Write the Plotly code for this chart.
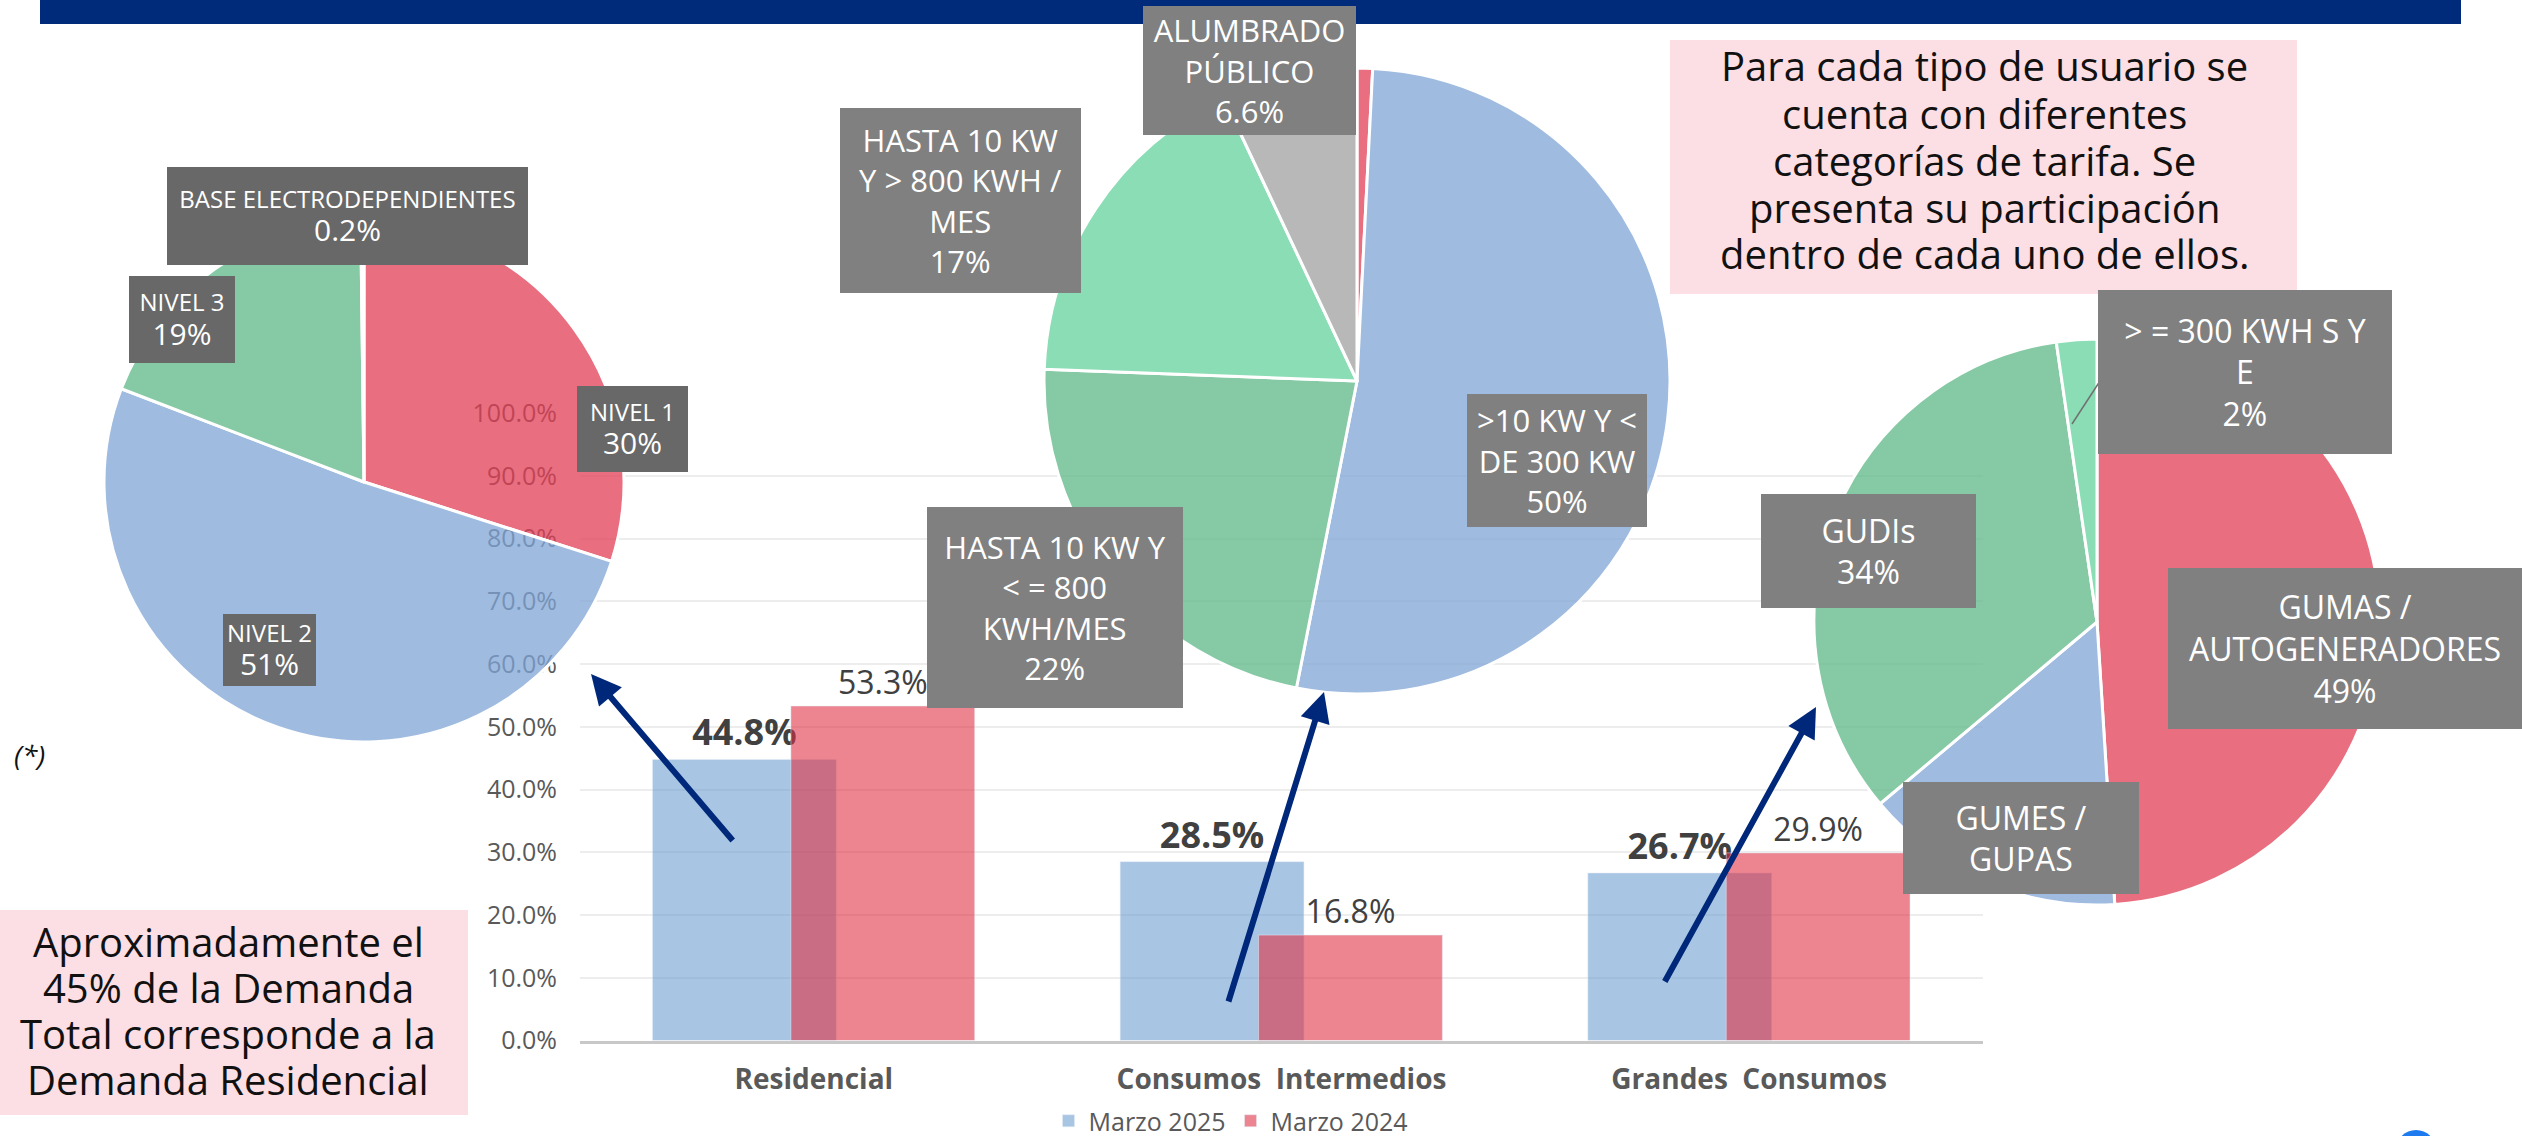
import plotly.graph_objects as go

W, H = 2522, 1136

# barras: participación en la demanda total
categorias = ["Residencial", "Consumos  Intermedios", "Grandes  Consumos"]
marzo_2025 = [44.8, 28.5, 26.7]
marzo_2024 = [53.3, 16.8, 29.9]
ticks_y = [0, 10, 20, 30, 40, 50, 60, 70, 80, 90, 100]

# pastel residencial
res_nombres = ["NIVEL 1", "NIVEL 2", "NIVEL 3", "BASE ELECTRODEPENDIENTES"]
res_valores = [30, 51, 19, 0.2]
res_etiquetas = ["30%", "51%", "19%", "0.2%"]

# pastel consumos intermedios
int_nombres = ["OTROS", ">10 KW Y <\nDE 300 KW", "HASTA 10 KW Y\n< = 800\nKWH/MES",
               "HASTA 10 KW\nY > 800 KWH /\nMES", "ALUMBRADO\nPÚBLICO"]
int_valores = [0.8, 52.3, 22.5, 17.4, 7.0]
int_etiquetas = ["", "50%", "22%", "17%", "6.6%"]

# pastel grandes consumos
gc_nombres = ["GUMAS /\nAUTOGENERADORES", "GUMES /\nGUPAS", "GUDIs", "> = 300 KWH S Y\nE"]
gc_valores = [49, 14.9, 33.8, 2.3]
gc_etiquetas = ["49%", "", "34%", "2%"]

texto_sup = ["Para cada tipo de usuario se", "cuenta con diferentes", "categorías de tarifa. Se",
             "presenta su participación", "dentro de cada uno de ellos."]
texto_inf = ["Aproximadamente el", "45% de la Demanda", "Total corresponde a la", "Demanda Residencial"]

ROJO = "rgba(226,62,84,0.75)"
AZUL = "rgba(127,164,214,0.75)"
VERDE = "rgba(94,183,135,0.75)"
VERDE_CL = "rgba(100,210,156,0.75)"
GRIS = "rgba(160,160,160,0.75)"
FONT = "Open Sans"


def px(x):
    return x / W


def py(y):
    return 1 - y / H


def esc(s):
    return s.replace("&", "&amp;").replace("<", "&lt;").replace(">", "&gt;").replace("\n", "<br>")


def pastel(valores, nombres, colores, cx, cy, r):
    return go.Pie(values=valores, labels=nombres, marker=dict(colors=colores, line=dict(color="white", width=3)),
                  domain=dict(x=[px(cx - r), px(cx + r)], y=[py(cy + r), py(cy - r)]),
                  sort=False, direction="clockwise", rotation=0, textinfo="none",
                  showlegend=False, hoverinfo="label+percent")


fig = go.Figure()

fig.add_trace(go.Bar(x=categorias, y=marzo_2025, name="Marzo 2025", marker_color="rgba(107,155,208,0.58)",
                     width=0.393, offset=-0.345, texttemplate="<b>%{y:.1f}%</b>", textposition="outside",
                     textfont=dict(size=36, color="#404040"), cliponaxis=False))
fig.add_trace(go.Bar(x=categorias, y=marzo_2024, name="Marzo 2024", marker_color="rgba(224,45,64,0.58)",
                     width=0.393, offset=-0.049, texttemplate="%{y:.1f}%", textposition="outside",
                     textfont=dict(size=32, color="#404040"), cliponaxis=False))

fig.add_trace(pastel(res_valores, res_nombres, [ROJO, AZUL, VERDE, VERDE_CL], 364, 482, 260))
fig.add_trace(pastel(int_valores, int_nombres, [ROJO, AZUL, VERDE, VERDE_CL, GRIS], 1357, 381, 313))
fig.add_trace(pastel(gc_valores, gc_nombres, [ROJO, AZUL, VERDE, VERDE_CL], 2097, 622, 283))

anots = []


def caja(texto, x0, y0, x1, y1, color, size):
    anots.append(dict(text=texto, xref="paper", yref="paper", x=px(x0), y=py(y0), xanchor="left", yanchor="top",
                      width=x1 - x0, height=y1 - y0, bgcolor=color, borderwidth=0, borderpad=0,
                      align="center", valign="middle", showarrow=False,
                      font=dict(family=FONT, size=size, color="white")))


# etiquetas del pastel residencial
cajas_res = [(577, 386, 688, 472), (223, 614, 316, 686), (129, 276, 235, 363), (167, 167, 528, 265)]
for n, e, c in zip(res_nombres, res_etiquetas, cajas_res):
    t = f"<span style='font-size:24px'>{esc(n)}</span><br><span style='font-size:30px'>{e}</span>"
    caja(t, *c, "#686868", 26)

cajas_int = [None, (1467, 394, 1647, 527), (927, 507, 1183, 708), (840, 108, 1081, 293), (1143, 6, 1356, 135)]
for n, e, c in zip(int_nombres, int_etiquetas, cajas_int):
    if c:
        caja(esc(n) + ("<br>" + e if e else ""), *c, "#808080", 31)

cajas_gc = [(2168, 568, 2522, 729), (1903, 782, 2139, 894), (1761, 494, 1976, 608), (2098, 290, 2392, 454)]
for n, e, c in zip(gc_nombres, gc_etiquetas, cajas_gc):
    caja(esc(n) + ("<br>" + e if e else ""), *c, "#808080", 32)

# textos en recuadros rosados
for i, linea in enumerate(texto_sup):
    anots.append(dict(text=linea, xref="paper", yref="paper", x=px(1984), y=py(66 + 47 * i),
                      xanchor="center", yanchor="middle", showarrow=False,
                      font=dict(family=FONT, size=40, color="#111111")))
for i, linea in enumerate(texto_inf):
    anots.append(dict(text=linea, xref="paper", yref="paper", x=px(228), y=py(941 + 46 * i),
                      xanchor="center", yanchor="middle", showarrow=False,
                      font=dict(family=FONT, size=40, color="#111111")))

anots.append(dict(text="<i>(*)</i>", xref="paper", yref="paper", x=px(29), y=py(755), xanchor="center",
                  yanchor="middle", showarrow=False, font=dict(family=FONT, size=28, color="#111111")))

# flechas
flechas = [((591, 674), (734, 842)), ((1324, 692), (1228, 1003)), ((1816, 707), (1664, 983))]
for (tx, ty), (sx, sy) in flechas:
    anots.append(dict(text="", xref="paper", yref="paper", x=px(tx), y=py(ty), ax=sx - tx, ay=sy - ty,
                      showarrow=True, arrowhead=2, arrowsize=1, arrowwidth=6, arrowcolor="#00287A"))

shapes = [
    dict(type="rect", xref="paper", yref="paper", x0=px(40), x1=px(2461), y0=py(24), y1=1,
         fillcolor="#002A7A", line=dict(width=0)),
    dict(type="rect", xref="paper", yref="paper", x0=px(1670), x1=px(2297), y0=py(294), y1=py(40),
         fillcolor="#FCDFE4", line=dict(width=0), layer="below"),
    dict(type="rect", xref="paper", yref="paper", x0=0, x1=px(468), y0=py(1115), y1=py(910),
         fillcolor="#FCDFE4", line=dict(width=0), layer="below"),
    dict(type="line", xref="paper", yref="paper", x0=px(2072), y0=py(424), x1=px(2100), y1=py(381),
         line=dict(color="#707070", width=1.5)),
    dict(type="circle", xref="paper", yref="paper", x0=px(2396), x1=px(2436), y0=py(1170), y1=py(1130),
         fillcolor="#1E7BEF", line=dict(width=0)),
]

fig.update_layout(
    width=W, height=H, margin=dict(l=0, r=0, t=0, b=0, autoexpand=False),
    paper_bgcolor="white", plot_bgcolor="rgba(0,0,0,0)",
    font=dict(family=FONT, color="#595959"),
    barmode="overlay",
    xaxis=dict(domain=[px(580), px(1983)], range=[-0.5, 2.5], showgrid=False, showline=True,
               linecolor="#C8C8C8", linewidth=3, ticks="", tickvals=categorias,
               ticktext=[c.replace("  ", "\u00a0 ") for c in categorias],
               tickfont=dict(size=28, color="#595959", weight="bold"), ticklabelstandoff=12),
    yaxis=dict(domain=[py(1040.5), py(413)], range=[0, 100], tickvals=ticks_y,
               ticktext=[f"{v:.1f}%" for v in ticks_y], gridcolor="#EDEDED", gridwidth=2,
               zeroline=False, showline=False, tickfont=dict(size=25, color="#595959"), ticklabelstandoff=22),
    legend=dict(orientation="h", x=px(1231), xanchor="center", y=py(1121), yanchor="middle",
                font=dict(size=25, color="#595959"), bgcolor="rgba(0,0,0,0)", itemwidth=30),
    annotations=anots,
    shapes=shapes,
)

fig.write_html("out.html", config={"displayModeBar": False},
               post_script="document.body.style.margin='0';document.body.style.overflow='hidden';")
